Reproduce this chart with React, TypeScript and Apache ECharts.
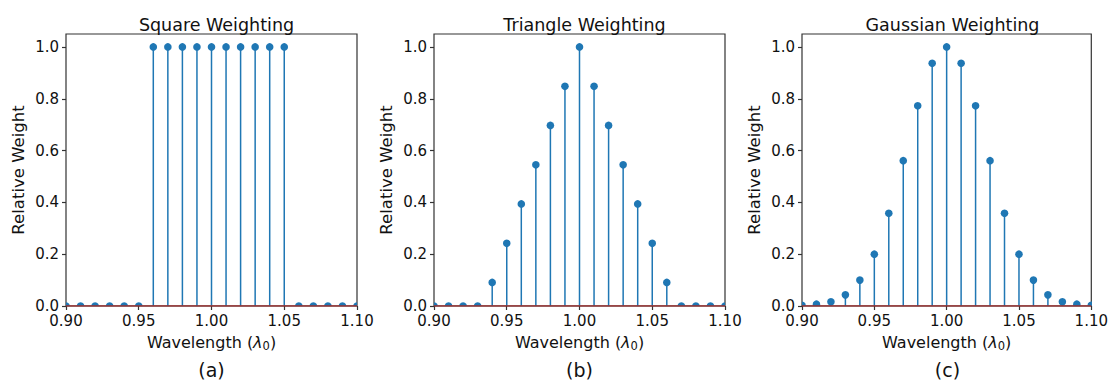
import React, { useEffect, useRef } from "react";
import * as echarts from "echarts";

const wavelengths = [0.9, 0.91, 0.92, 0.93, 0.94, 0.95, 0.96, 0.97, 0.98, 0.99, 1.0, 1.01, 1.02, 1.03, 1.04, 1.05, 1.06, 1.07, 1.08, 1.09, 1.1];
const squareWeights = [0, 0, 0, 0, 0, 0, 1, 1, 1, 1, 1, 1, 1, 1, 1, 1, 0, 0, 0, 0, 0];
const triangleWeights = [0, 0, 0, 0, 0.091, 0.242, 0.394, 0.545, 0.697, 0.848, 1.0, 0.848, 0.697, 0.545, 0.394, 0.242, 0.091, 0, 0, 0, 0];
const gaussianWeights = [0.003, 0.007, 0.016, 0.043, 0.1, 0.2, 0.358, 0.561, 0.773, 0.937, 1.0, 0.937, 0.773, 0.561, 0.358, 0.2, 0.1, 0.043, 0.016, 0.007, 0.003];

const panelTitles = ["Square Weighting", "Triangle Weighting", "Gaussian Weighting"];
const panelTags = ["(a)", "(b)", "(c)"];
const xTicks = [0.9, 0.95, 1.0, 1.05, 1.1];
const yTicks = [0, 0.2, 0.4, 0.6, 0.8, 1.0];

const FONT = "DejaVu Sans";
const BLUE = "#1f77b4";
const SPINE = "#333333";
const TXT = "#111111";

export default function App() {
  const ref = useRef<HTMLDivElement>(null);
  useEffect(() => {
    if (!ref.current) return;
    const chart = echarts.init(ref.current, undefined, { renderer: "svg" });
    const lefts = [66, 434, 802];
    const W = 291;
    const top = 34;
    const H = 272;
    const seriesData = [squareWeights, triangleWeights, gaussianWeights];

    const grids = lefts.map((l) => ({
      left: l,
      top,
      width: W,
      height: H,
      show: true,
      borderColor: SPINE,
      borderWidth: 1.2,
      backgroundColor: "transparent",
    }));

    const xAxes = lefts.map((_, i) => ({
      type: "value",
      gridIndex: i,
      min: 0.9,
      max: 1.1,
      name: "Wavelength ({i|λ}{s|0})",
      nameLocation: "middle",
      nameGap: 27,
      nameTextStyle: {
        fontFamily: FONT,
        fontSize: 16,
        color: TXT,
        rich: {
          i: { fontFamily: FONT, fontStyle: "italic", fontSize: 16, color: TXT },
          s: { fontFamily: FONT, fontSize: 11.5, color: TXT, verticalAlign: "bottom", padding: [7, 0, 0, 0] },
        },
      },
      axisLine: { show: false },
      splitLine: { show: false },
      axisTick: { show: true, length: 4, inside: false, lineStyle: { color: SPINE, width: 1.2 }, customValues: xTicks },
      axisLabel: {
        fontFamily: FONT,
        fontSize: 15,
        color: TXT,
        margin: 7,
        customValues: xTicks,
        formatter: (v: number) => v.toFixed(2),
      },
    }));

    const yAxes = lefts.map((_, i) => ({
      type: "value",
      gridIndex: i,
      min: 0,
      max: 1.05,
      name: "Relative Weight",
      nameLocation: "middle",
      nameGap: 39,
      nameTextStyle: { fontFamily: FONT, fontSize: 16.5, color: TXT },
      axisLine: { show: false },
      splitLine: { show: false },
      axisTick: { show: true, length: 4, inside: false, lineStyle: { color: SPINE, width: 1.2 }, customValues: yTicks },
      axisLabel: {
        fontFamily: FONT,
        fontSize: 15,
        color: TXT,
        margin: 7,
        customValues: yTicks,
        formatter: (v: number) => v.toFixed(1),
      },
    }));

    const series: any[] = [];
    seriesData.forEach((vals, i) => {
      series.push({
        type: "custom",
        xAxisIndex: i,
        yAxisIndex: i,
        clip: true,
        z: 2,
        data: wavelengths.map((w, k) => [w, vals[k]]),
        encode: { x: 0, y: 1 },
        renderItem: (_params: any, api: any) => {
          const x = api.value(0);
          const y = api.value(1);
          const p = api.coord([x, y]);
          const b = api.coord([x, 0]);
          return {
            type: "group",
            children: [
              { type: "line", shape: { x1: p[0], y1: b[1], x2: p[0], y2: p[1] }, style: { stroke: BLUE, lineWidth: 1.5 } },
              { type: "circle", shape: { cx: p[0], cy: p[1], r: 3.8 }, style: { fill: BLUE } },
            ],
          };
        },
      });
      series.push({
        type: "line",
        xAxisIndex: i,
        yAxisIndex: i,
        z: 3,
        symbol: "none",
        silent: true,
        data: [[wavelengths[0], 0], [wavelengths[wavelengths.length - 1], 0]],
        lineStyle: { color: "#9b2b2b", width: 1.6 },
      });
    });

    const titles = lefts.map((l, i) => ({
      text: panelTitles[i],
      left: l + W / 2,
      top: 11,
      textAlign: "center",
      textStyle: { fontFamily: FONT, fontSize: 17.5, fontWeight: "normal", color: TXT },
    }));

    const graphics = lefts.map((l, i) => ({
      type: "text",
      x: l + W / 2,
      y: 370,
      style: {
        text: panelTags[i],
        fontFamily: FONT,
        fontSize: 19,
        fill: TXT,
        textAlign: "center",
        textVerticalAlign: "middle",
      },
    }));

    chart.setOption({
      animation: false,
      backgroundColor: "#ffffff",
      title: titles,
      grid: grids,
      xAxis: xAxes,
      yAxis: yAxes,
      series,
      graphic: graphics,
    });
    return () => chart.dispose();
  }, []);
  return <div ref={ref} style={{ position: "fixed", left: 0, top: 0, width: 1111, height: 381 }} />;
}
